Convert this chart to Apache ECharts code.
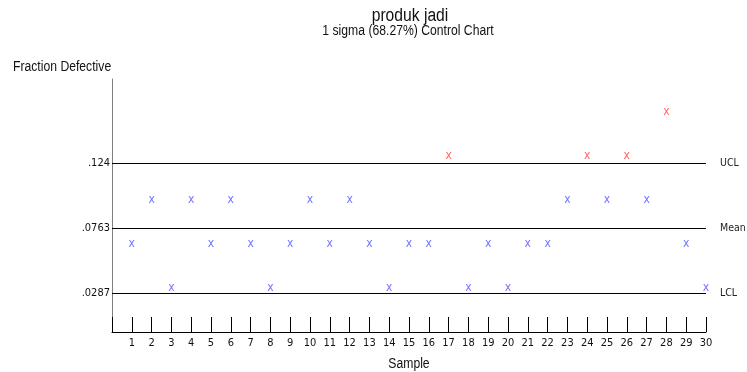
<!DOCTYPE html>
<html>
<head>
<meta charset="utf-8">
<script src="https://cdn.jsdelivr.net/npm/echarts@6/dist/echarts.min.js"></script>
<style>
  html, body { margin: 0; padding: 0; background: #fff; }
  #chart { width: 747px; height: 372px; }
</style>
</head>
<body>
<div id="chart"></div>
<script>
var chart = echarts.init(document.getElementById('chart'));

var FONT = "'DejaVu Sans Condensed', sans-serif";
var TITLE_FONT = "'Liberation Sans', Arial, sans-serif";

// data
var samples = [1, 2, 3, 4, 5, 6, 7, 8, 9, 10, 11, 12, 13, 14, 15,
               16, 17, 18, 19, 20, 21, 22, 23, 24, 25, 26, 27, 28, 29, 30];
var fractions = [0.0645, 0.0968, 0.0323, 0.0968, 0.0645, 0.0968, 0.0645, 0.0323, 0.0645, 0.0968,
                 0.0645, 0.0968, 0.0645, 0.0323, 0.0645, 0.0645, 0.129, 0.0323, 0.0645, 0.0323,
                 0.0645, 0.0645, 0.0968, 0.129, 0.0968, 0.129, 0.0968, 0.1613, 0.0645, 0.0323];
var limitNames = ['UCL', 'Mean', 'LCL'];
var limitValues = [0.124, 0.0763, 0.0287];
var yTickLabels = ['.124', '.0763', '.0287'];

var inControl = [];
var outControl = [];
for (var i = 0; i < samples.length; i++) {
    if (fractions[i] > limitValues[0]) {
        outControl.push([samples[i], fractions[i]]);
    } else {
        inControl.push([samples[i], fractions[i]]);
    }
}

function xLabel(color) {
    return {
        show: true,
        formatter: 'x',
        position: 'inside',
        color: color,
        fontFamily: FONT,
        fontSize: 12
    };
}

// narrow-looking text (the original uses a condensed font)
function narrowText(str, x, y, size, align) {
    return {
        type: 'text', x: x, y: y, scaleX: 0.87,
        style: { text: str, fontFamily: TITLE_FONT, fontSize: size, fill: '#111',
                 textAlign: align, textVerticalAlign: 'middle' }
    };
}

option = {
    animation: false,
    grid: {
        left: 112,
        right: 41,
        top: 79,
        bottom: 40,
        containLabel: false,
        outerBoundsMode: 'none'
    },
    graphic: [
        narrowText('produk jadi', 410, 16, 18, 'center'),
        narrowText('1 sigma (68.27%) Control Chart', 408, 31, 14, 'center'),
        narrowText('Fraction Defective', 13, 67, 14, 'left'),
        narrowText('Sample', 409, 364, 14, 'center')
    ],
    xAxis: {
        type: 'value',
        min: 0,
        max: 30,
        interval: 1,
        splitLine: { show: false },
        axisLine: { lineStyle: { color: '#000', width: 1 } },
        axisTick: { inside: true, length: 15, lineStyle: { color: '#000' } },
        axisLabel: {
            margin: 6,
            fontFamily: FONT,
            fontSize: 11,
            color: '#111',
            formatter: function (v) { return v === 0 ? '' : v; }
        }
    },
    yAxis: {
        type: 'value',
        min: 0,
        max: 0.1855,
        splitLine: { show: false },
        axisLine: { show: true, lineStyle: { color: '#808080', width: 1 } },
        axisTick: { show: false },
        axisLabel: {
            customValues: limitValues,
            margin: 2,
            fontFamily: FONT,
            fontSize: 11,
            color: '#111',
            formatter: function (v) {
                return yTickLabels[limitValues.indexOf(v)];
            }
        }
    },
    series: [
        {
            name: 'in control',
            type: 'scatter',
            symbol: 'circle',
            symbolSize: 1,
            itemStyle: { color: 'rgba(0,0,0,0)' },
            label: xLabel('#5050ff'),
            data: inControl,
            markLine: {
                silent: true,
                symbol: 'none',
                precision: 4,
                lineStyle: { color: '#000', width: 1, type: 'solid' },
                label: {
                    position: 'end',
                    distance: 14,
                    formatter: '{b}',
                    fontFamily: FONT,
                    fontSize: 10.5,
                    color: '#222'
                },
                data: limitNames.map(function (n, k) {
                    return { name: n, yAxis: limitValues[k] };
                })
            }
        },
        {
            name: 'out of control',
            type: 'scatter',
            symbol: 'circle',
            symbolSize: 1,
            itemStyle: { color: 'rgba(0,0,0,0)' },
            label: xLabel('#ff4040'),
            data: outControl
        }
    ]
};

option && chart.setOption(option);
</script>
</body>
</html>
